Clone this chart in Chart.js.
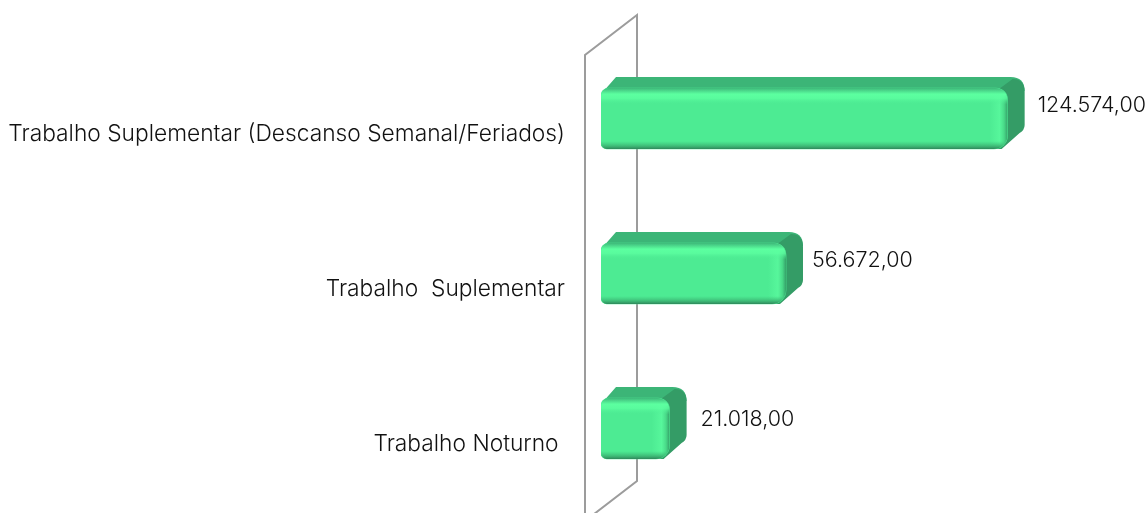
<!DOCTYPE html>
<html>
<head>
<meta charset="utf-8">
<style>
    body { margin: 0; background: #fff; }
    canvas { display: block; }
</style>
</head>
<body>
<canvas id="chart" width="1148" height="513"></canvas>
<script src="https://cdn.jsdelivr.net/npm/chart.js@4"></script>
<script>
const categories = ['Trabalho Suplementar (Descanso Semanal/Feriados)', 'Trabalho  Suplementar', 'Trabalho Noturno '];
const values = [124574, 56672, 21018];
const valueLabels = ['124.574,00', '56.672,00', '21.018,00'];

const fontFamily = 'Inter, sans-serif';
const depthX = 17;
const depthY = 11;
const frontRadius = { topLeft: 8, topRight: 12, bottomLeft: 6, bottomRight: 14 };
// the labels do not sit at the same spot next to each bar
const labelNudge = [[13, -13], [9, -13], [14, -9]];

// 3D wall behind the bars + top and right faces of each bar
const backFaces = {
    id: 'backFaces',
    beforeDatasetsDraw(chart) {
        const ctx = chart.ctx;
        const x0 = chart.scales.x.getPixelForValue(0);
        const { top, bottom } = chart.chartArea;

        ctx.save();
        ctx.strokeStyle = '#9c9c9c';
        ctx.lineWidth = 2;
        ctx.beginPath();
        ctx.moveTo(x0 - 16, 513);
        ctx.lineTo(x0 - 16, top + 14);
        ctx.lineTo(x0 + 36, top - 26);
        ctx.lineTo(x0 + 36, bottom - 25);
        ctx.lineTo(x0 - 16, bottom + 15);
        ctx.stroke();

        chart.getDatasetMeta(0).data.forEach(bar => {
            const t = bar.y - bar.height / 2;
            const b = bar.y + bar.height / 2;
            const rx = bar.x + depthX;
            const ry = t - depthY;

            ctx.fillStyle = '#3cb577';
            ctx.beginPath();
            ctx.moveTo(x0 + 1, t + 5);
            ctx.lineTo(x0 + depthX - 2, ry);
            ctx.lineTo(rx - 14, ry);
            ctx.quadraticCurveTo(rx, ry, rx, ry + 14);
            ctx.lineTo(bar.x, t + 12);
            ctx.lineTo(x0 + 2, t + 12);
            ctx.closePath();
            ctx.fill();

            ctx.fillStyle = '#349c66';
            ctx.beginPath();
            ctx.moveTo(bar.x - 10, t + 2);
            ctx.lineTo(rx - 12, ry + 2);
            ctx.quadraticCurveTo(rx, ry + 2, rx, ry + 15);
            ctx.lineTo(rx, b - 24);
            ctx.quadraticCurveTo(rx, b - 19, rx - 5, b - 16);
            ctx.lineTo(bar.x - 6, b);
            ctx.lineTo(bar.x - 12, b);
            ctx.closePath();
            ctx.fill();
        });
        ctx.restore();
    }
};

// bevel shading on the front of each bar and the value labels
const frontShading = {
    id: 'frontShading',
    afterDatasetsDraw(chart) {
        const ctx = chart.ctx;
        const x0 = chart.scales.x.getPixelForValue(0);

        chart.getDatasetMeta(0).data.forEach((bar, i) => {
            const t = bar.y - bar.height / 2;
            const h = bar.height;
            const w = bar.x - x0;

            ctx.save();
            ctx.beginPath();
            ctx.roundRect(x0, t, w, h, [frontRadius.topLeft, frontRadius.topRight, frontRadius.bottomRight, frontRadius.bottomLeft]);
            ctx.clip();

            const horiz = ctx.createLinearGradient(bar.x - 18, 0, bar.x, 0);
            horiz.addColorStop(0, 'rgba(90,250,158,0)');
            horiz.addColorStop(0.55, 'rgba(90,250,158,0.75)');
            horiz.addColorStop(0.8, 'rgba(72,215,135,0.9)');
            horiz.addColorStop(1, 'rgba(52,160,104,1)');
            ctx.fillStyle = horiz;
            ctx.fillRect(bar.x - 18, t, 18, h);

            const vert = ctx.createLinearGradient(0, t, 0, t + h);
            vert.addColorStop(0, 'rgba(62,185,122,1)');
            vert.addColorStop(0.1, 'rgba(92,255,160,1)');
            vert.addColorStop(0.17, 'rgba(92,255,160,0.8)');
            vert.addColorStop(0.27, 'rgba(78,235,148,0)');
            vert.addColorStop(0.87, 'rgba(60,190,120,0)');
            vert.addColorStop(0.95, 'rgba(58,175,112,0.8)');
            vert.addColorStop(1, 'rgba(46,135,90,1)');
            ctx.fillStyle = vert;
            ctx.fillRect(x0, t, w, h);
            ctx.restore();

            ctx.save();
            ctx.fillStyle = '#111';
            ctx.font = '300 21.5px ' + fontFamily;
            ctx.textAlign = 'left';
            ctx.textBaseline = 'middle';
            ctx.fillText(valueLabels[i], bar.x + depthX + labelNudge[i][0], bar.y + labelNudge[i][1]);
            ctx.restore();
        });
    }
};

new Chart(document.getElementById('chart'), {
    type: 'bar',
    data: {
        labels: categories,
        datasets: [{
            data: values,
            backgroundColor: '#4deb93',
            barThickness: 61,
            borderRadius: frontRadius,
            borderSkipped: false
        }]
    },
    options: {
        indexAxis: 'y',
        responsive: false,
        animation: false,
        layout: { padding: { top: 41, bottom: 7, right: 90 } },
        plugins: {
            legend: { display: false },
            title: { display: false },
            tooltip: { enabled: false }
        },
        scales: {
            x: { display: false, min: 0, max: 140000 },
            y: {
                afterFit(scale) {
                    scale.width = 601;
                    scale.paddingTop = 0;
                    scale.paddingBottom = 0;
                },
                grid: { display: false, drawTicks: false },
                border: { display: false },
                ticks: {
                    padding: 36,
                    labelOffset: 16,
                    autoSkip: false,
                    color: '#111',
                    font: { family: fontFamily, size: 22.75, weight: '300' }
                }
            }
        }
    },
    plugins: [backFaces, frontShading]
});
</script>
</body>
</html>
